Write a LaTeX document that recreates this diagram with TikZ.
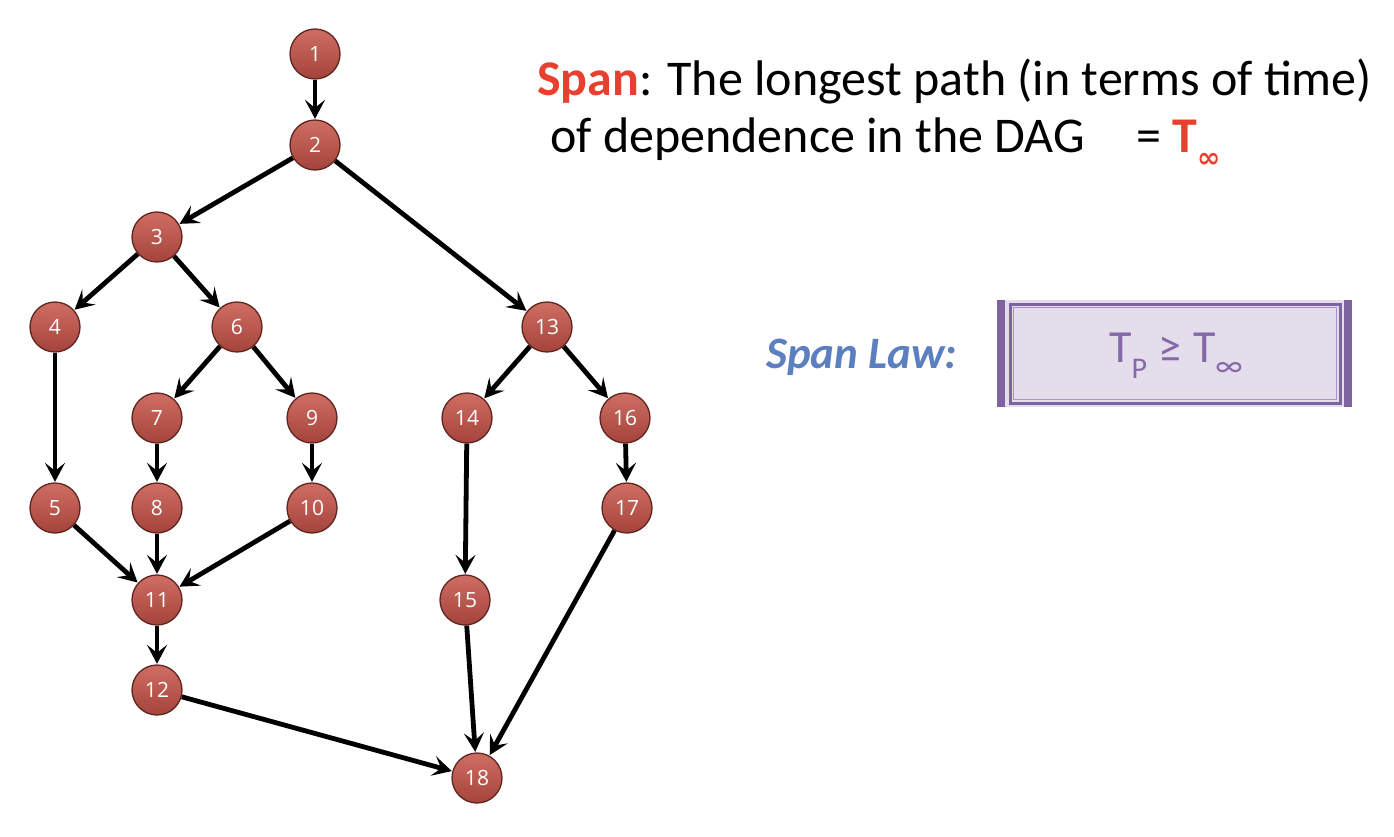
\documentclass[tikz,border=0pt]{standalone}
\usepackage{fontspec}
\setmainfont{Carlito}
\newfontfamily\numfont{Open Sans}
\newfontfamily\symfont{DejaVu Sans}
\usetikzlibrary{arrows.meta}
\definecolor{nodetop}{HTML}{CF6E63}
\definecolor{nodebot}{HTML}{A3433B}
\definecolor{nodeedge}{HTML}{5E2420}
\definecolor{spanred}{HTML}{E8402E}
\definecolor{lawblue}{HTML}{5B7FBF}
\definecolor{boxpurple}{HTML}{7E63A1}
\definecolor{boxlight}{HTML}{A894C6}
\definecolor{boxfill}{HTML}{E4DDEC}
\definecolor{boxtext}{HTML}{8468A8}
\begin{document}
\begin{tikzpicture}[x=1pt,y=-1pt,
  vtx/.style={circle, minimum size=50pt, inner sep=0pt, draw=nodeedge, line width=1.3pt,
    top color=nodetop, bottom color=nodebot, text=white,
    font=\numfont\fontsize{21}{21}\selectfont},
  edge/.style={line width=4.8pt, -{Stealth[length=19pt,width=20pt,inset=8pt]}, shorten >=0.5pt},
  maintext/.style={anchor=base west, inner sep=0pt, font=\fontsize{50}{60}\selectfont}
]
\useasboundingbox (0,0) rectangle (1394,836);

\node[vtx] (n1) at (315,54) {1};
\node[vtx] (n2) at (315,145) {2};
\node[vtx] (n3) at (157,237) {3};
\node[vtx] (n4) at (55,327) {4};
\node[vtx] (n6) at (237,327) {6};
\node[vtx] (n13) at (547,327) {13};
\node[vtx] (n7) at (157,418) {7};
\node[vtx] (n9) at (312,418) {9};
\node[vtx] (n14) at (467,418) {14};
\node[vtx] (n16) at (625,418) {16};
\node[vtx] (n5) at (55,508) {5};
\node[vtx] (n8) at (157,508) {8};
\node[vtx] (n10) at (312,508) {10};
\node[vtx] (n17) at (627,508) {17};
\node[vtx] (n11) at (157,600) {11};
\node[vtx] (n15) at (465,600) {15};
\node[vtx] (n12) at (157,690) {12};
\node[vtx] (n18) at (477,778) {18};

\foreach \a/\b in {n1/n2,n2/n3,n2/n13,n3/n4,n3/n6,n4/n5,n6/n7,n6/n9,n7/n8,n9/n10,
  n5/n11,n8/n11,n10/n11,n11/n12,n12/n18,n13/n14,n13/n16,n14/n15,n16/n17,n15/n18,n17/n18}
  \draw[edge] (\a) -- (\b);

\node[maintext] (l1) at (537,95) {\textcolor{spanred}{\textbf{Span}}: The longest path (in terms of time)};
\node[maintext] (l2) at (550,152) {of dependence in the DAG\hspace{0.8em} = \textcolor{spanred}{\textbf{T}\raisebox{-0.3em}{\symfont\bfseries\fontsize{28}{28}\selectfont ∞}}};

\node[anchor=base west, inner sep=0pt, text=lawblue, font=\bfseries\itshape\fontsize{45}{50}\selectfont] (law) at (766,368) {Span Law:};

\fill[boxfill] (997,300) rectangle (1352,407);
\fill[boxpurple] (997,300) rectangle (1005,407);
\fill[boxpurple] (1344,300) rectangle (1352,407);
\draw[boxpurple, line width=3pt] (1010,304) rectangle (1340,403);
\draw[boxlight, line width=1.2pt] (1013.5,307.5) rectangle (1336.5,399.5);
\node[text=boxtext, inner sep=0pt, font=\fontsize{46}{50}\selectfont] (formula) at (1176,356)
  {T\raisebox{-0.35em}{\fontsize{30}{30}\selectfont P}\hspace{0.25em}≥\hspace{0.25em}T\raisebox{-0.3em}{\fontsize{32}{32}\selectfont ∞}};
\end{tikzpicture}
\end{document}
